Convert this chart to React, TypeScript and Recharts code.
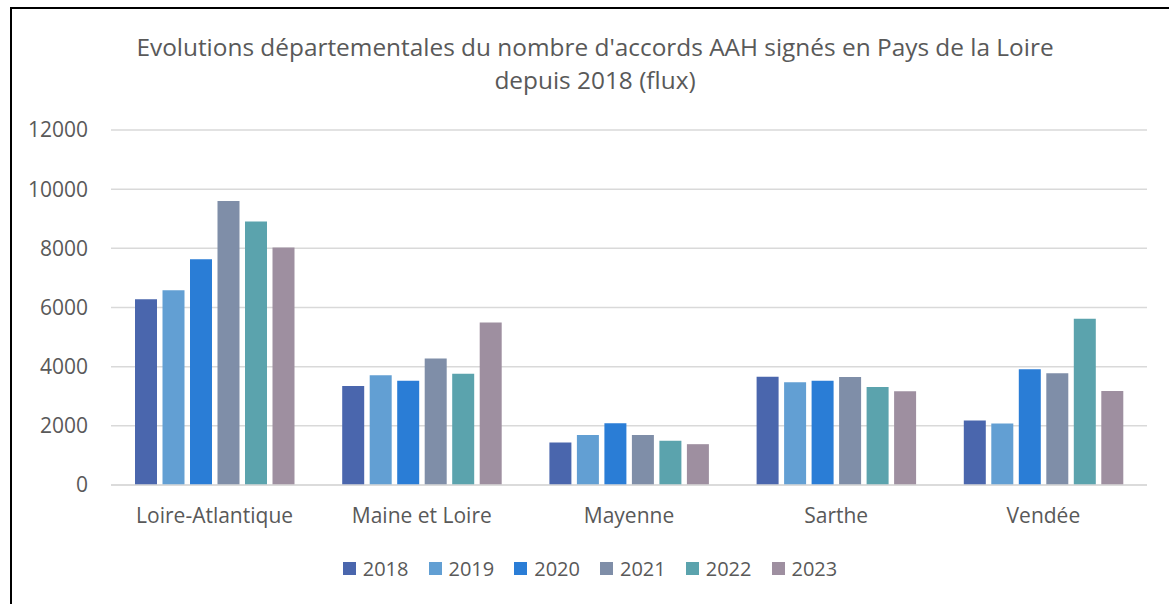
import { Bar, BarChart, CartesianGrid, Legend, XAxis, YAxis } from "recharts";

const departements = ["Loire-Atlantique", "Maine et Loire", "Mayenne", "Sarthe", "Vendée"];
const years = ["2018", "2019", "2020", "2021", "2022", "2023"];
const v2018 = [6280, 3350, 1440, 3660, 2180];
const v2019 = [6580, 3710, 1690, 3470, 2080];
const v2020 = [7630, 3520, 2090, 3520, 3910];
const v2021 = [9600, 4280, 1690, 3650, 3780];
const v2022 = [8910, 3760, 1500, 3310, 5620];
const v2023 = [8030, 5490, 1380, 3170, 3180];
const yTicks = [0, 2000, 4000, 6000, 8000, 10000, 12000];

const colors = ["#4a66ad", "#629fd3", "#2a7dd6", "#7f8ea8", "#5ba3ad", "#9e8fa0"];
const series = [v2018, v2019, v2020, v2021, v2022, v2023];

const data = departements.map((name, i) => {
  const row: any = { name };
  years.forEach((y, k) => {
    row["y" + y] = series[k][i];
  });
  return row;
});

const font = "'Open Sans', sans-serif";
const textColor = "#595959";

const renderLegend = (props: any) => {
  const { payload } = props;
  return (
    <div
      style={{
        height: 40,
        display: "flex",
        justifyContent: "center",
        alignItems: "center",
        paddingLeft: 33,
        fontFamily: font,
        fontSize: 20,
        color: textColor,
      }}
    >
      {payload.map((entry: any, i: number) => (
        <div key={entry.value} style={{ display: "flex", alignItems: "center", marginLeft: i ? 20 : 0 }}>
          <span style={{ width: 13, height: 13, background: entry.color, marginRight: 7, display: "inline-block" }} />
          <span>{entry.value}</span>
        </div>
      ))}
    </div>
  );
};

export default function App() {
  return (
    <div
      style={{
        position: "absolute",
        left: 0,
        top: 0,
        width: 1169,
        height: 604,
        overflow: "hidden",
        background: "#fff",
      }}
    >
      <BarChart
        width={1169}
        height={604}
        data={data}
        margin={{ top: 130, right: 22, left: 0, bottom: 16 }}
        barCategoryGap="11.5%"
        barGap={5.5}
      >
        <CartesianGrid vertical={false} stroke="#d9d9d9" strokeWidth={1.5} />
        <XAxis
          dataKey="name"
          height={63}
          axisLine={{ stroke: "#d9d9d9", strokeWidth: 1.5 }}
          tickLine={false}
          tickSize={0}
          tickMargin={23}
          tick={{ fill: textColor, fontSize: 21, fontFamily: font }}
        />
        <YAxis
          width={111}
          domain={[0, 12000]}
          ticks={yTicks}
          axisLine={false}
          tickLine={false}
          tickSize={0}
          tickMargin={23}
          tick={{ fill: textColor, fontSize: 21, fontFamily: font }}
        />
        <Legend verticalAlign="bottom" content={renderLegend} />
        {years.map((y, k) => (
          <Bar key={y} dataKey={"y" + y} name={y} fill={colors[k]} barSize={22} isAnimationActive={false} />
        ))}
      </BarChart>
      <div
        style={{
          position: "absolute",
          left: 0,
          top: 30,
          width: 1190,
          textAlign: "center",
          fontFamily: font,
          fontSize: 24.4,
          lineHeight: "33px",
          color: textColor,
        }}
      >
        Evolutions départementales du nombre d'accords AAH signés en Pays de la Loire
        <br />
        depuis 2018 (flux)
      </div>
      <div
        style={{
          position: "absolute",
          left: 10,
          top: 7,
          width: 1200,
          height: 700,
          border: "2px solid #000",
          pointerEvents: "none",
        }}
      />
    </div>
  );
}
